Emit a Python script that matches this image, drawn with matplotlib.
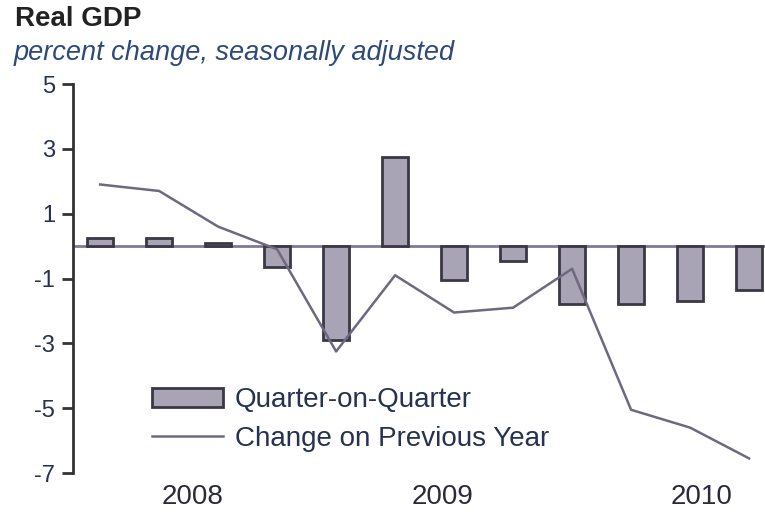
import numpy as np
import matplotlib.pyplot as plt

# quarterly data, 2008 Q1 .. 2010 Q4
quarters = ['2008Q1', '2008Q2', '2008Q3', '2008Q4',
            '2009Q1', '2009Q2', '2009Q3', '2009Q4',
            '2010Q1', '2010Q2', '2010Q3', '2010Q4']
qoq = [0.25, 0.25, 0.1, -0.65, -2.9, 2.75, -1.05, -0.45, -1.8, -1.8, -1.7, -1.35]
yoy = [1.9, 1.7, 0.6, -0.1, -3.25, -0.9, -2.05, -1.9, -0.7, -5.05, -5.6, -6.55]
year_labels = ['2008', '2009', '2010']
year_pos = [1.56, 5.81, 10.2]
y_ticks = [5, 3, 1, -1, -3, -5, -7]

plt.rcParams['font.family'] = ['Liberation Sans', 'DejaVu Sans']

bar_fill = '#a8a3b5'
bar_edge = '#3a3844'
line_col = '#6e6980'
txt_col = '#26324f'

fig = plt.figure(figsize=(7.65, 5.14), dpi=100)
ax = fig.add_axes([73 / 765, 1 - 473 / 514, 1 - 73 / 765, (473 - 84) / 514])

x = np.arange(len(quarters))
ax.axhline(0, color='#7f7a99', lw=2, zorder=1)
bars = ax.bar(x, qoq, width=0.43, color=bar_fill, edgecolor=bar_edge, linewidth=2,
              label='Quarter-on-Quarter', zorder=2)
line, = ax.plot(x, yoy, color=line_col, lw=1.8, label='Change on Previous Year', zorder=3)

ax.set_xlim(-0.46, 11.27)
ax.set_ylim(-7, 5)
ax.set_yticks(y_ticks)
ax.set_yticklabels([str(t) for t in y_ticks], fontsize=17, color=txt_col)
ax.set_xticks(year_pos)
ax.set_xticklabels(year_labels, fontsize=20, color='#2a2a3a')
ax.tick_params(axis='x', length=0, pad=8)
ax.tick_params(axis='y', length=8, width=2, color='#333333', pad=5)

for s in ['top', 'right', 'bottom']:
    ax.spines[s].set_visible(False)
ax.spines['left'].set_linewidth(2)
ax.spines['left'].set_color('#333333')

leg = ax.legend([bars, line], ['Quarter-on-Quarter', 'Change on Previous Year'],
                loc='upper left', bbox_to_anchor=(152 / 765, 1 - 387 / 514),
                bbox_transform=fig.transFigure, frameon=False, fontsize=20,
                handlelength=2.55, handletextpad=0.43, labelspacing=0.45,
                borderpad=0, borderaxespad=0)
for t in leg.get_texts():
    t.set_color(txt_col)

fig.text(15 / 765, 1 - 19 / 514, 'Real GDP', fontsize=20, fontweight='bold',
         color='#222222', va='center', ha='left')
fig.text(14 / 765, 1 - 53 / 514, 'percent change, seasonally adjusted', fontsize=19.5,
         style='italic', color='#2d4a7a', va='center', ha='left')

fig.savefig('out.png', dpi=100)
